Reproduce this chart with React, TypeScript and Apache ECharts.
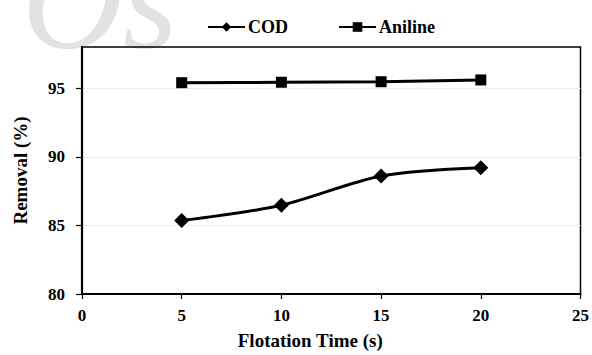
import React, { useEffect, useRef } from "react";
import * as echarts from "echarts";

const times = [5, 10, 15, 20];
const codRemoval = [85.35, 86.47, 88.6, 89.2];
const anilineRemoval = [95.4, 95.43, 95.47, 95.6];
const yTicks = [80, 85, 90, 95];

const FONT = "Liberation Serif";

export default function App() {
  const ref = useRef<HTMLDivElement>(null);
  useEffect(() => {
    if (!ref.current) return;
    const chart = echarts.init(ref.current, null, { renderer: "svg" });
    chart.setOption({
      animation: false,
      backgroundColor: "#ffffff",
      textStyle: { fontFamily: FONT },
      graphic: [
        {
          type: "text",
          x: 22,
          y: 70,
          z: -10,
          silent: true,
          style: {
            text: "Os",
            fontFamily: FONT,
            fontStyle: "italic",
            fontSize: 140,
            fill: "#e2e2e2",
            verticalAlign: "bottom",
          },
        },
      ],
      legend: {
        top: 13,
        left: 202,
        itemWidth: 37,
        itemHeight: 12,
        itemGap: 50,
        textStyle: { fontFamily: FONT, fontWeight: "bold", fontSize: 18, color: "#000", padding: [0, 0, 0, -2] },
        data: ["COD", "Aniline"],
      },
      grid: {
        left: 82,
        right: 9,
        top: 47,
        bottom: 56,
        show: true,
        borderColor: "#000",
        borderWidth: 1.5,
      },
      xAxis: {
        type: "value",
        min: 0,
        max: 25,
        interval: 5,
        name: "Flotation Time (s)",
        nameLocation: "middle",
        nameGap: 37,
        nameTextStyle: { fontFamily: FONT, fontWeight: "bold", fontSize: 19, color: "#000", padding: [0, 42, 0, 0] },
        axisLine: { show: true, lineStyle: { color: "#000", width: 2.2 } },
        axisTick: { show: true, inside: false, length: 5, lineStyle: { color: "#000", width: 1.2 } },
        axisLabel: { fontFamily: FONT, fontWeight: "bold", fontSize: 17, color: "#000", margin: 13 },
        splitLine: { show: false },
      },
      yAxis: {
        type: "value",
        min: 80,
        max: 98,
        interval: 5,
        name: "Removal (%)",
        nameLocation: "middle",
        nameGap: 52,
        nameRotate: 90,
        nameTextStyle: { fontFamily: FONT, fontWeight: "bold", fontSize: 19, color: "#000" },
        axisLine: { show: true, lineStyle: { color: "#000", width: 2.2 } },
        axisTick: { show: true, inside: false, length: 6, customValues: yTicks, lineStyle: { color: "#000", width: 1.2 } },
        axisLabel: { fontFamily: FONT, fontWeight: "bold", fontSize: 17, color: "#000", margin: 17, customValues: yTicks },
        splitLine: { show: true, lineStyle: { color: "#ececec", width: 1 } },
      },
      series: [
        {
          name: "COD",
          type: "line",
          smooth: 0.3,
          data: times.map((t, i) => [t, codRemoval[i]]),
          symbol: "diamond",
          symbolSize: 15,
          itemStyle: { color: "#000" },
          lineStyle: { color: "#000", width: 3 },
        },
        {
          name: "Aniline",
          type: "line",
          smooth: 0.3,
          data: times.map((t, i) => [t, anilineRemoval[i]]),
          symbol: "rect",
          symbolSize: 11,
          itemStyle: { color: "#000" },
          lineStyle: { color: "#000", width: 3 },
        },
      ],
    });
    return () => chart.dispose();
  }, []);
  return <div ref={ref} style={{ width: 592, height: 355, position: "absolute", left: 0, top: 0 }} />;
}
